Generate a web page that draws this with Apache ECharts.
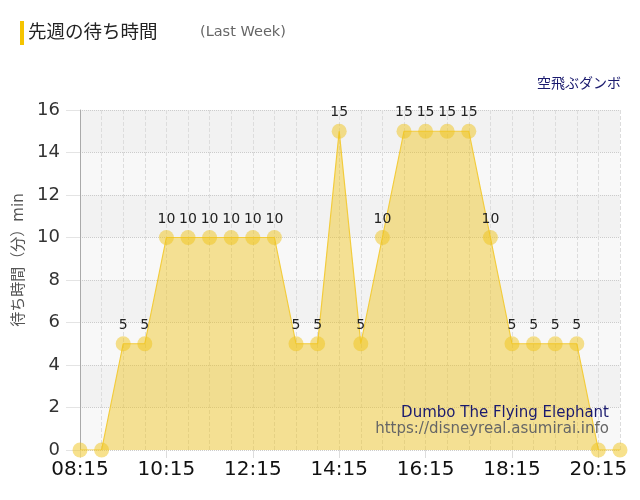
<!DOCTYPE html>
<html>
<head>
<meta charset="utf-8">
<script src="https://cdn.jsdelivr.net/npm/echarts@6/dist/echarts.min.js"></script>
<style>
html, body { margin: 0; padding: 0; background: #fff; }
#main { width: 640px; height: 500px; }
</style>
</head>
<body>
<div id="main"></div>
<script>
// 30分ごとの待ち時間（先週）
var times = ['08:15', '08:45', '09:15', '09:45', '10:15', '10:45', '11:15', '11:45',
	'12:15', '12:45', '13:15', '13:45', '14:15', '14:45', '15:15', '15:45',
	'16:15', '16:45', '17:15', '17:45', '18:15', '18:45', '19:15', '19:45',
	'20:15', '20:45'];
var waits = [0, 0, 5, 5, 10, 10, 10, 10, 10, 10, 5, 5, 15, 5, 10, 15,
	15, 15, 15, 10, 5, 5, 5, 5, 0, 0];
var yTicks = [0, 2, 4, 6, 8, 10, 12, 14, 16];

var font = 'DejaVu Sans, Noto Sans CJK JP, sans-serif';
var yellow = '#f0c419';

var myChart = echarts.init(document.getElementById('main'));
var option = {
	animation: false,
	textStyle: { fontFamily: font },
	grid: { left: 80, right: 20, top: 110, bottom: 50 },
	graphic: [
		{ type: 'rect', shape: { x: 20, y: 21, width: 4, height: 24 }, style: { fill: '#f5c400' } },
		{ type: 'text', left: 28, top: 24, style: { text: '先週の待ち時間', fontSize: 18.5, fill: '#222', fontFamily: font } },
		{ type: 'text', left: 200, top: 25, style: { text: '(Last Week)', fontSize: 14.5, fill: '#666', fontFamily: font } },
		{ type: 'text', right: 19, top: 77, style: { text: '空飛ぶダンボ', fontSize: 14, fill: '#1a1a6e', fontFamily: font } },
		{ type: 'text', right: 31, top: 406, z: 10, style: { text: 'Dumbo The Flying Elephant', fontSize: 15, fill: '#1a1a6e', fontFamily: font } },
		{ type: 'text', right: 31, top: 422, z: 10, style: { text: 'https://disneyreal.asumirai.info', fontSize: 15, fill: '#666', fontFamily: font } }
	],
	xAxis: {
		type: 'category',
		boundaryGap: false,
		data: times,
		axisLine: { show: false },
		axisTick: {
			show: true,
			interval: 3,
			length: 8,
			lineStyle: { color: '#ddd' }
		},
		axisLabel: {
			interval: 3,
			fontSize: 20,
			color: '#111',
			margin: 10,
			fontFamily: font
		},
		splitLine: {
			show: true,
			interval: 0,
			lineStyle: { color: '#ddd', type: 'dashed' }
		}
	},
	yAxis: {
		type: 'value',
		min: yTicks[0],
		max: yTicks[yTicks.length - 1],
		interval: 2,
		name: '待ち時間（分）min',
		nameLocation: 'middle',
		nameGap: 52,
		nameTextStyle: { fontSize: 15, color: '#555', fontFamily: font, padding: [0, 0, 0, 40] },
		axisLine: { show: true, lineStyle: { color: '#aaa' } },
		axisTick: { show: true, length: 14, lineStyle: { color: '#e4e4e4' } },
		axisLabel: { fontSize: 18, color: '#333', margin: 20, fontFamily: font },
		splitLine: { lineStyle: { color: '#ccc', type: 'dotted' } },
		splitArea: { show: true, areaStyle: { color: ['#f8f8f8', '#f2f2f2'] } }
	},
	series: [{
		type: 'line',
		data: waits,
		symbol: 'circle',
		symbolSize: 15,
		showSymbol: true,
		showAllSymbol: true,
		itemStyle: { color: yellow, opacity: 0.5 },
		lineStyle: { color: '#f3cc3c', width: 1.2 },
		areaStyle: { color: yellow, opacity: 0.45 },
		label: {
			show: true,
			position: 'top',
			distance: 4,
			fontSize: 14,
			color: '#222',
			opacity: 1,
			fontFamily: font,
			formatter: function(p) {
				return p.value > 0 ? p.value : '';
			}
		}
	}]
};
myChart.setOption(option);
</script>
</body>
</html>
